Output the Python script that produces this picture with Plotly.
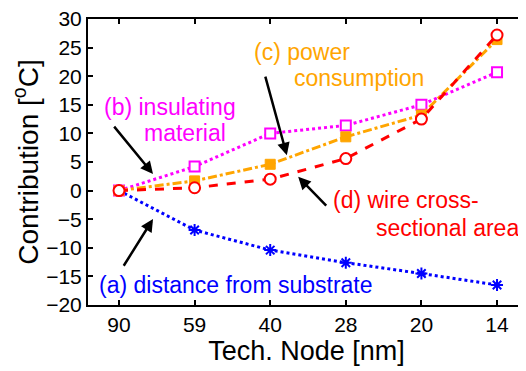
import plotly.graph_objects as go

nodes = ["90", "59", "40", "28", "20", "14"]
dist_substrate = [0.0, -6.9, -10.4, -12.6, -14.5, -16.5]
insulating = [0.0, 4.2, 10.0, 11.4, 15.0, 20.7]
power = [0.0, 1.7, 4.6, 9.4, 13.2, 26.4]
wire_area = [0.0, 0.5, 2.0, 5.6, 12.5, 27.2]

FONT = "Liberation Sans, Arial, Helvetica, sans-serif"

fig = go.Figure()
fig.add_trace(go.Scatter(x=nodes, y=dist_substrate, mode="lines+markers",
                         line=dict(color="#0000FF", width=3, dash="dot"),
                         marker=dict(symbol="asterisk-open", size=10,
                                     line=dict(color="#0000FF", width=2))))
fig.add_trace(go.Scatter(x=nodes, y=insulating, mode="lines+markers",
                         line=dict(color="#FF00FF", width=3, dash="dot"),
                         marker=dict(symbol="square", size=10, color="white",
                                     line=dict(color="#FF00FF", width=2))))
fig.add_trace(go.Scatter(x=nodes, y=power, mode="lines+markers",
                         line=dict(color="#FFA500", width=3, dash="dashdot"),
                         marker=dict(symbol="square", size=10, color="#FFA500",
                                     line=dict(color="#FFA500", width=1))))
fig.add_trace(go.Scatter(x=nodes, y=wire_area, mode="lines+markers",
                         line=dict(color="#FF0000", width=3, dash="dash"),
                         marker=dict(symbol="circle", size=11, color="white",
                                     line=dict(color="#FF0000", width=2))))

def label(x, y, text, color):
    fig.add_annotation(x=x, y=y, xref="x", yref="y", text=text, showarrow=False,
                       font=dict(family=FONT, size=23, color=color))

def arrow(x, y, ax, ay):
    fig.add_annotation(x=x, y=y, ax=ax, ay=ay, xref="x", yref="y", axref="x", ayref="y",
                       text="", showarrow=True, arrowhead=2, arrowsize=1,
                       arrowwidth=2.5, arrowcolor="black")

label(0.675, 14.6, "(b) insulating", "#FF00FF")
label(0.87, 10.1, "material", "#FF00FF")
label(2.42, 24.2, "(c) power", "#FFA500")
label(3.17, 19.7, "consumption", "#FFA500")
label(3.80, -1.64, "(d) wire cross-", "#FF0000")
label(4.34, -6.54, "sectional area", "#FF0000")
label(1.55, -16.5, "(a) distance from substrate", "#0000FF")

arrow(0.45, 2.9, -0.08, 11.45)
arrow(0.45, -4.97, 0.05, -13.4)
arrow(2.22, 6.2, 1.93, 20.2)
arrow(2.37, 2.4, 2.76, -2.9)

axis_common = dict(showline=True, linecolor="black", linewidth=2, mirror="ticks",
                   ticks="inside", ticklen=5, tickwidth=2, tickcolor="black",
                   showgrid=False, zeroline=False, automargin=False,
                   ticklabeloverflow="allow",
                   tickfont=dict(family=FONT, size=21, color="black"))

fig.update_xaxes(type="category", range=[-0.41, 5.37],
                 title=dict(text="Tech. Node [nm]", font=dict(family=FONT, size=27, color="black"),
                            standoff=3),
                 **axis_common)
fig.update_yaxes(range=[-20, 30], dtick=5,
                 title=dict(text="Contribution [<sup>o</sup>C]",
                            font=dict(family=FONT, size=28, color="black"), standoff=0),
                 **axis_common)

# page body has an 8px default margin; size the figure so the plot lands where the reference has it
fig.update_layout(width=518, height=363, showlegend=False,
                  plot_bgcolor="white", paper_bgcolor="white",
                  margin=dict(l=80, r=1, t=11, b=66))

fig.write_html("out.html")
